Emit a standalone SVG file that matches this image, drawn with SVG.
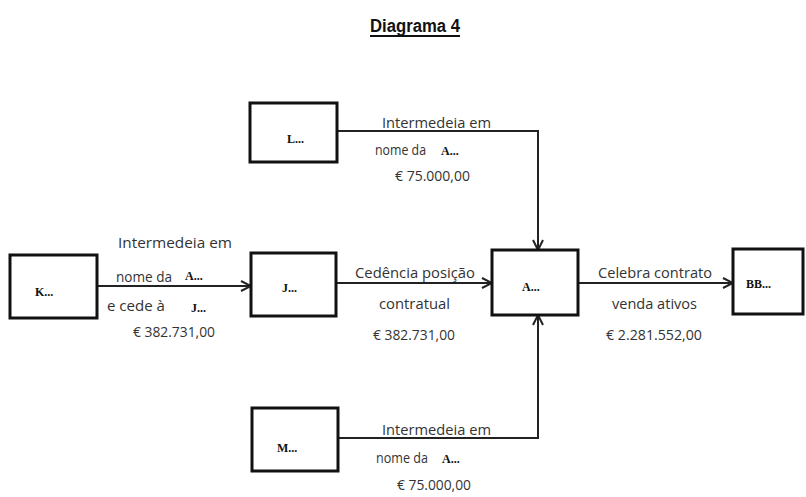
<svg xmlns="http://www.w3.org/2000/svg" width="806" height="497" viewBox="0 0 806 497">
<style>
.box{fill:#fff;stroke:#111;stroke-width:3}
.conn{fill:none;stroke:#222;stroke-width:2}
.lbl{font-family:"Open Sans","Liberation Sans",sans-serif;font-size:15px;fill:#333}
.nm{font-family:"Liberation Serif",serif;font-weight:bold;font-size:12px;fill:#111}
.title{font-family:"Liberation Sans",sans-serif;font-weight:bold;font-size:18px;fill:#111}
</style>
<defs>
<marker id="arr" viewBox="0 0 12 12" refX="11" refY="6" markerWidth="12" markerHeight="12" markerUnits="userSpaceOnUse" orient="auto">
<path d="M1,1 L11,6 L1,11" fill="none" stroke="#222" stroke-width="2"/>
</marker>
</defs>
<rect width="806" height="497" fill="#fff"/>
<text class="title" x="370" y="32" textLength="90" lengthAdjust="spacingAndGlyphs">Diagrama 4</text>
<line x1="370" y1="36" x2="460" y2="36" stroke="#111" stroke-width="2"/>

<g id="connectors">
<path class="conn" d="M97,286 H251" marker-end="url(#arr)"/>
<path class="conn" d="M336,283 H492" marker-end="url(#arr)"/>
<path class="conn" d="M578,283 H733" marker-end="url(#arr)"/>
<path class="conn" d="M337,131 H538 V250" marker-end="url(#arr)"/>
<path class="conn" d="M338,438 H538 V315" marker-end="url(#arr)"/>
</g>

<g id="labels">
<text class="lbl" x="118" y="248" textLength="114" lengthAdjust="spacingAndGlyphs">Intermedeia em</text>
<text class="lbl" x="116" y="282" textLength="56" lengthAdjust="spacingAndGlyphs">nome da</text>
<text class="nm" x="185" y="280">A...</text>
<text class="lbl" x="107" y="311" textLength="58" lengthAdjust="spacingAndGlyphs">e cede à</text>
<text class="nm" x="191" y="312">J...</text>
<text class="lbl" x="133" y="337" textLength="82" lengthAdjust="spacingAndGlyphs">€ 382.731,00</text>

<text class="lbl" x="382" y="128" textLength="109" lengthAdjust="spacingAndGlyphs">Intermedeia em</text>
<text class="lbl" x="375" y="155" textLength="51" lengthAdjust="spacingAndGlyphs">nome da</text>
<text class="nm" x="441" y="155">A...</text>
<text class="lbl" x="395" y="181" textLength="75" lengthAdjust="spacingAndGlyphs">€ 75.000,00</text>

<text class="lbl" x="355" y="278" textLength="120" lengthAdjust="spacingAndGlyphs">Cedência posição</text>
<text class="lbl" x="379" y="309" textLength="71" lengthAdjust="spacingAndGlyphs">contratual</text>
<text class="lbl" x="373" y="340" textLength="82" lengthAdjust="spacingAndGlyphs">€ 382.731,00</text>

<text class="lbl" x="598" y="278" textLength="114" lengthAdjust="spacingAndGlyphs">Celebra contrato</text>
<text class="lbl" x="612" y="309" textLength="85" lengthAdjust="spacingAndGlyphs">venda ativos</text>
<text class="lbl" x="606" y="340" textLength="96" lengthAdjust="spacingAndGlyphs">€ 2.281.552,00</text>

<text class="lbl" x="382" y="435" textLength="109" lengthAdjust="spacingAndGlyphs">Intermedeia em</text>
<text class="lbl" x="376" y="463" textLength="52" lengthAdjust="spacingAndGlyphs">nome da</text>
<text class="nm" x="442" y="463">A...</text>
<text class="lbl" x="397" y="490" textLength="74" lengthAdjust="spacingAndGlyphs">€ 75.000,00</text>
</g>

<g id="node-K"><rect class="box" x="10" y="255" width="87" height="63"/><text class="nm" x="35" y="296">K...</text></g>
<g id="node-L"><rect class="box" x="250" y="103" width="87" height="59"/><text class="nm" x="287" y="143">L...</text></g>
<g id="node-J"><rect class="box" x="251" y="253" width="85" height="63"/><text class="nm" x="282" y="292">J...</text></g>
<g id="node-A"><rect class="box" x="492" y="250" width="86" height="65"/><text class="nm" x="522" y="291">A...</text></g>
<g id="node-BB"><rect class="box" x="733" y="249" width="70" height="65"/><text class="nm" x="746" y="288">BB...</text></g>
<g id="node-M"><rect class="box" x="252" y="408" width="86" height="63"/><text class="nm" x="277" y="452">M...</text></g>
</svg>
